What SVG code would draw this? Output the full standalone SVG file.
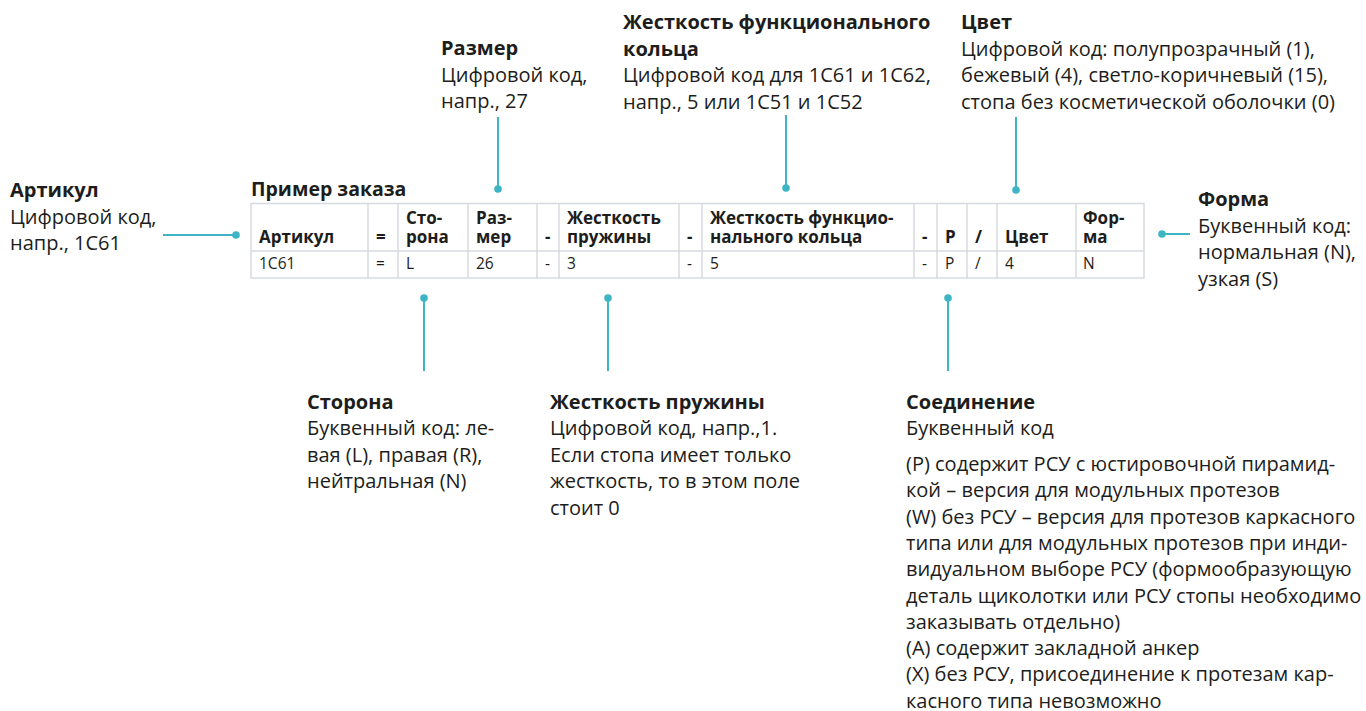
<svg xmlns="http://www.w3.org/2000/svg" width="1366" height="711" viewBox="0 0 1366 711">
<defs>
<style>
text{font-family:"Open Sans","Noto Sans","DejaVu Sans",sans-serif;fill:#1d1d1b}
.h{font-size:20px;font-weight:700}
.b{font-size:20px}
.t{font-size:19.5px;font-weight:700}
.th{font-size:17px;font-weight:700}
.td{font-size:15.5px}
.grid{stroke:#d6dae0;stroke-width:1.5;fill:none}
.con{stroke:#3db5c5;stroke-width:2;fill:none}
.dot{fill:#3db5c5}
</style>
</defs>
<rect width="1366" height="711" fill="#ffffff"/>

<g id="table">
<text class="t" x="251" y="196">Пример заказа</text>
<rect class="grid" x="251" y="203.5" width="893" height="74.5"/>
<path class="grid" d="M251 251H1144M368 203.5V278M398 203.5V278M468 203.5V278M537 203.5V278M559 203.5V278M679 203.5V278M702 203.5V278M914 203.5V278M937 203.5V278M967 203.5V278M997 203.5V278M1076 203.5V278"/>
<text class="th" x="259" y="243">Артикул</text>
<text class="th" x="376" y="243">=</text>
<text class="th" x="406" y="224">Сто-<tspan x="406" dy="19">рона</tspan></text>
<text class="th" x="476" y="224">Раз-<tspan x="476" dy="19">мер</tspan></text>
<text class="th" x="545" y="243">-</text>
<text class="th" x="567" y="224">Жесткость<tspan x="567" dy="19">пружины</tspan></text>
<text class="th" x="687" y="243">-</text>
<text class="th" x="710" y="224">Жесткость функцио-<tspan x="710" dy="19">нального кольца</tspan></text>
<text class="th" x="922" y="243">-</text>
<text class="th" x="945" y="243">P</text>
<text class="th" x="975" y="243">/</text>
<text class="th" x="1005" y="243">Цвет</text>
<text class="th" x="1083" y="224">Фор-<tspan x="1083" dy="19">ма</tspan></text>
<text class="td" x="259" y="269">1C61</text>
<text class="td" x="376" y="269">=</text>
<text class="td" x="406" y="269">L</text>
<text class="td" x="476" y="269">26</text>
<text class="td" x="545" y="269">-</text>
<text class="td" x="567" y="269">3</text>
<text class="td" x="687" y="269">-</text>
<text class="td" x="710" y="269">5</text>
<text class="td" x="922" y="269">-</text>
<text class="td" x="945" y="269">P</text>
<text class="td" x="975" y="269">/</text>
<text class="td" x="1005" y="269">4</text>
<text class="td" x="1083" y="269">N</text>
</g>

<g id="connectors">
<path class="con" d="M163 235H236"/><circle class="dot" cx="236" cy="235" r="3.8"/>
<path class="con" d="M498 117V189"/><circle class="dot" cx="498" cy="189" r="3.8"/>
<path class="con" d="M786 115V188"/><circle class="dot" cx="786" cy="188" r="3.8"/>
<path class="con" d="M1016 117V190"/><circle class="dot" cx="1016" cy="190" r="3.8"/>
<path class="con" d="M1162 234H1190"/><circle class="dot" cx="1162" cy="234" r="3.8"/>
<path class="con" d="M424 298V371"/><circle class="dot" cx="424" cy="298" r="3.8"/>
<path class="con" d="M608 298V371"/><circle class="dot" cx="608" cy="298" r="3.8"/>
<path class="con" d="M948 298V371"/><circle class="dot" cx="948" cy="298" r="3.8"/>
</g>

<g id="artikul">
<text class="h" x="10" y="197">Артикул</text>
<text class="b" x="10" y="223.5">Цифровой код,<tspan x="10" dy="26.5">напр., 1C61</tspan></text>
</g>

<g id="razmer">
<text class="h" x="441" y="55">Размер</text>
<text class="b" x="441" y="81.5">Цифровой код,<tspan x="441" dy="26.5">напр., 27</tspan></text>
</g>

<g id="zhestkost-kolca">
<text class="h" x="623" y="29">Жесткость функционального<tspan x="623" dy="26.5">кольца</tspan></text>
<text class="b" x="623" y="82">Цифровой код для 1C61 и 1C62,<tspan x="623" dy="26.5">напр., 5 или 1C51 и 1C52</tspan></text>
</g>

<g id="cvet">
<text class="h" x="961" y="29">Цвет</text>
<text class="b" x="961" y="55.5">Цифровой код: полупрозрачный (1),<tspan x="961" dy="26.5">бежевый (4), светло-коричневый (15),</tspan><tspan x="961" dy="26.5">стопа без косметической оболочки (0)</tspan></text>
</g>

<g id="forma">
<text class="h" x="1198" y="206">Форма</text>
<text class="b" x="1198" y="232.5">Буквенный код:<tspan x="1198" dy="26.5">нормальная (N),</tspan><tspan x="1198" dy="26.5">узкая (S)</tspan></text>
</g>

<g id="storona">
<text class="h" x="307" y="408.5">Сторона</text>
<text class="b" x="307" y="435">Буквенный код: ле-<tspan x="307" dy="26.5">вая (L), правая (R),</tspan><tspan x="307" dy="26.5">нейтральная (N)</tspan></text>
</g>

<g id="zhestkost-pruzhiny">
<text class="h" x="550" y="408.5">Жесткость пружины</text>
<text class="b" x="550" y="435">Цифровой код, напр.,1.<tspan x="550" dy="26.5">Если стопа имеет только</tspan><tspan x="550" dy="26.5">жесткость, то в этом поле</tspan><tspan x="550" dy="26.5">стоит 0</tspan></text>
</g>

<g id="soedinenie">
<text class="h" x="906" y="408.5">Соединение</text>
<text class="b" x="906" y="435">Буквенный код</text>
<text class="b" x="906" y="471">(P) содержит РСУ с юстировочной пирамид-<tspan x="906" dy="26.3">кой – версия для модульных протезов</tspan><tspan x="906" dy="26.3">(W) без РСУ – версия для протезов каркасного</tspan><tspan x="906" dy="26.3">типа или для модульных протезов при инди-</tspan><tspan x="906" dy="26.3">видуальном выборе РСУ (формообразующую</tspan><tspan x="906" dy="26.3">деталь щиколотки или РСУ стопы необходимо</tspan><tspan x="906" dy="26.3">заказывать отдельно)</tspan><tspan x="906" dy="26.3">(A) содержит закладной анкер</tspan><tspan x="906" dy="26.3">(X) без РСУ, присоединение к протезам кар-</tspan><tspan x="906" dy="26.3">касного типа невозможно</tspan></text>
</g>
</svg>
